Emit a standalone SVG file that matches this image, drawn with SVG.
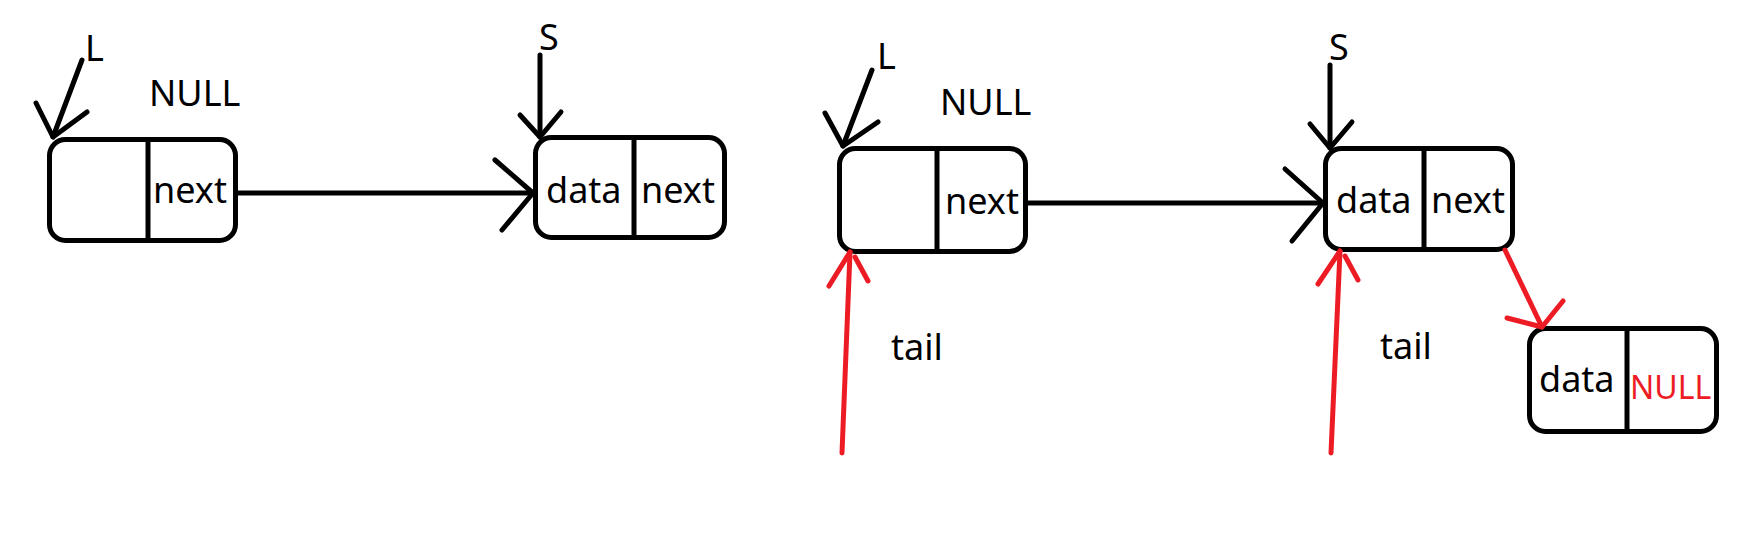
<svg xmlns="http://www.w3.org/2000/svg" width="1744" height="556" viewBox="0 0 1744 556">
  <style>
    .box { fill: none; stroke: #000; stroke-width: 5; }
    .div { stroke: #000; stroke-width: 5; }
    .ink { fill: none; stroke: #000; stroke-width: 5; stroke-linecap: round; stroke-linejoin: round; }
    .red { fill: none; stroke: #ED1C24; stroke-width: 5; stroke-linecap: round; stroke-linejoin: round; }
    text { font-family: "Noto Sans", "Open Sans", sans-serif; font-size: 36px; fill: #000; }
    .nullred { fill: #ED1C24; font-size: 32px; }
  </style>
  <rect width="1744" height="556" fill="#fff"/>

  <!-- left panel: head node L and new node S -->
  <g id="label-L1"><text x="85" y="61">L</text></g>
  <g id="label-null1"><text x="149" y="106">NULL</text></g>
  <g id="node-head1">
    <rect class="box" x="49.5" y="139.5" width="186" height="101" rx="16"/>
    <line class="div" x1="148" y1="139.5" x2="148" y2="240.5"/>
    <text x="153" y="203">next</text>
  </g>
  <g id="label-S1"><text x="539" y="50">S</text></g>
  <g id="node-s1">
    <rect class="box" x="535.5" y="137.5" width="189" height="100" rx="16"/>
    <line class="div" x1="634" y1="137.5" x2="634" y2="237.5"/>
    <text x="546" y="203">data</text>
    <text x="641" y="203">next</text>
  </g>

  <!-- right panel: after insertion, with tail pointer -->
  <g id="label-L2"><text x="877" y="69">L</text></g>
  <g id="label-null2"><text x="940" y="115">NULL</text></g>
  <g id="node-head2">
    <rect class="box" x="839.5" y="148.5" width="186" height="103" rx="16"/>
    <line class="div" x1="937" y1="148.5" x2="937" y2="251.5"/>
    <text x="945" y="214">next</text>
  </g>
  <g id="label-S2"><text x="1329" y="60">S</text></g>
  <g id="node-s2">
    <rect class="box" x="1325.5" y="148.5" width="187" height="101" rx="16"/>
    <line class="div" x1="1424" y1="148.5" x2="1424" y2="249.5"/>
    <text x="1336" y="213">data</text>
    <text x="1431" y="213">next</text>
  </g>
  <g id="node-new">
    <rect class="box" x="1529.5" y="328.5" width="187" height="103" rx="16"/>
    <line class="div" x1="1627" y1="328.5" x2="1627" y2="431.5"/>
    <text x="1539" y="392">data</text>
    <text class="nullred" x="1630" y="399">NULL</text>
  </g>
  <g id="label-tail1"><text x="891" y="360">tail</text></g>
  <g id="label-tail2"><text x="1380" y="359">tail</text></g>

  <!-- connectors: hand-drawn arrows -->
  <g id="connectors">
    <line class="ink" x1="82" y1="60" x2="53" y2="137"/>
    <polyline class="ink" points="36,103 53,137 87,112"/>
    <line class="ink" x1="540" y1="55" x2="540" y2="137"/>
    <polyline class="ink" points="520,115 540,137 561,112"/>
    <line class="ink" x1="238" y1="193" x2="533" y2="193"/>
    <polyline class="ink" points="495,160 533,193 502,230"/>

    <line class="ink" x1="872" y1="70" x2="843" y2="146"/>
    <polyline class="ink" points="825,113 843,146 878,122"/>
    <line class="ink" x1="1330" y1="65" x2="1330" y2="148"/>
    <polyline class="ink" points="1310,124 1330,148 1352,122"/>
    <line class="ink" x1="1028" y1="203" x2="1323" y2="203"/>
    <polyline class="ink" points="1285,169 1323,203 1292,241"/>

    <line class="red" x1="842" y1="453" x2="850" y2="252"/>
    <polyline class="red" points="829,286 850,252"/>
    <line class="red" x1="855" y1="257" x2="868" y2="281"/>
    <line class="red" x1="1331" y1="453" x2="1340" y2="251"/>
    <polyline class="red" points="1318,284 1340,251"/>
    <line class="red" x1="1345" y1="256" x2="1358" y2="280"/>
    <line class="red" x1="1505" y1="250" x2="1542" y2="327"/>
    <polyline class="red" points="1507,318 1542,327 1563,301"/>
  </g>
</svg>
